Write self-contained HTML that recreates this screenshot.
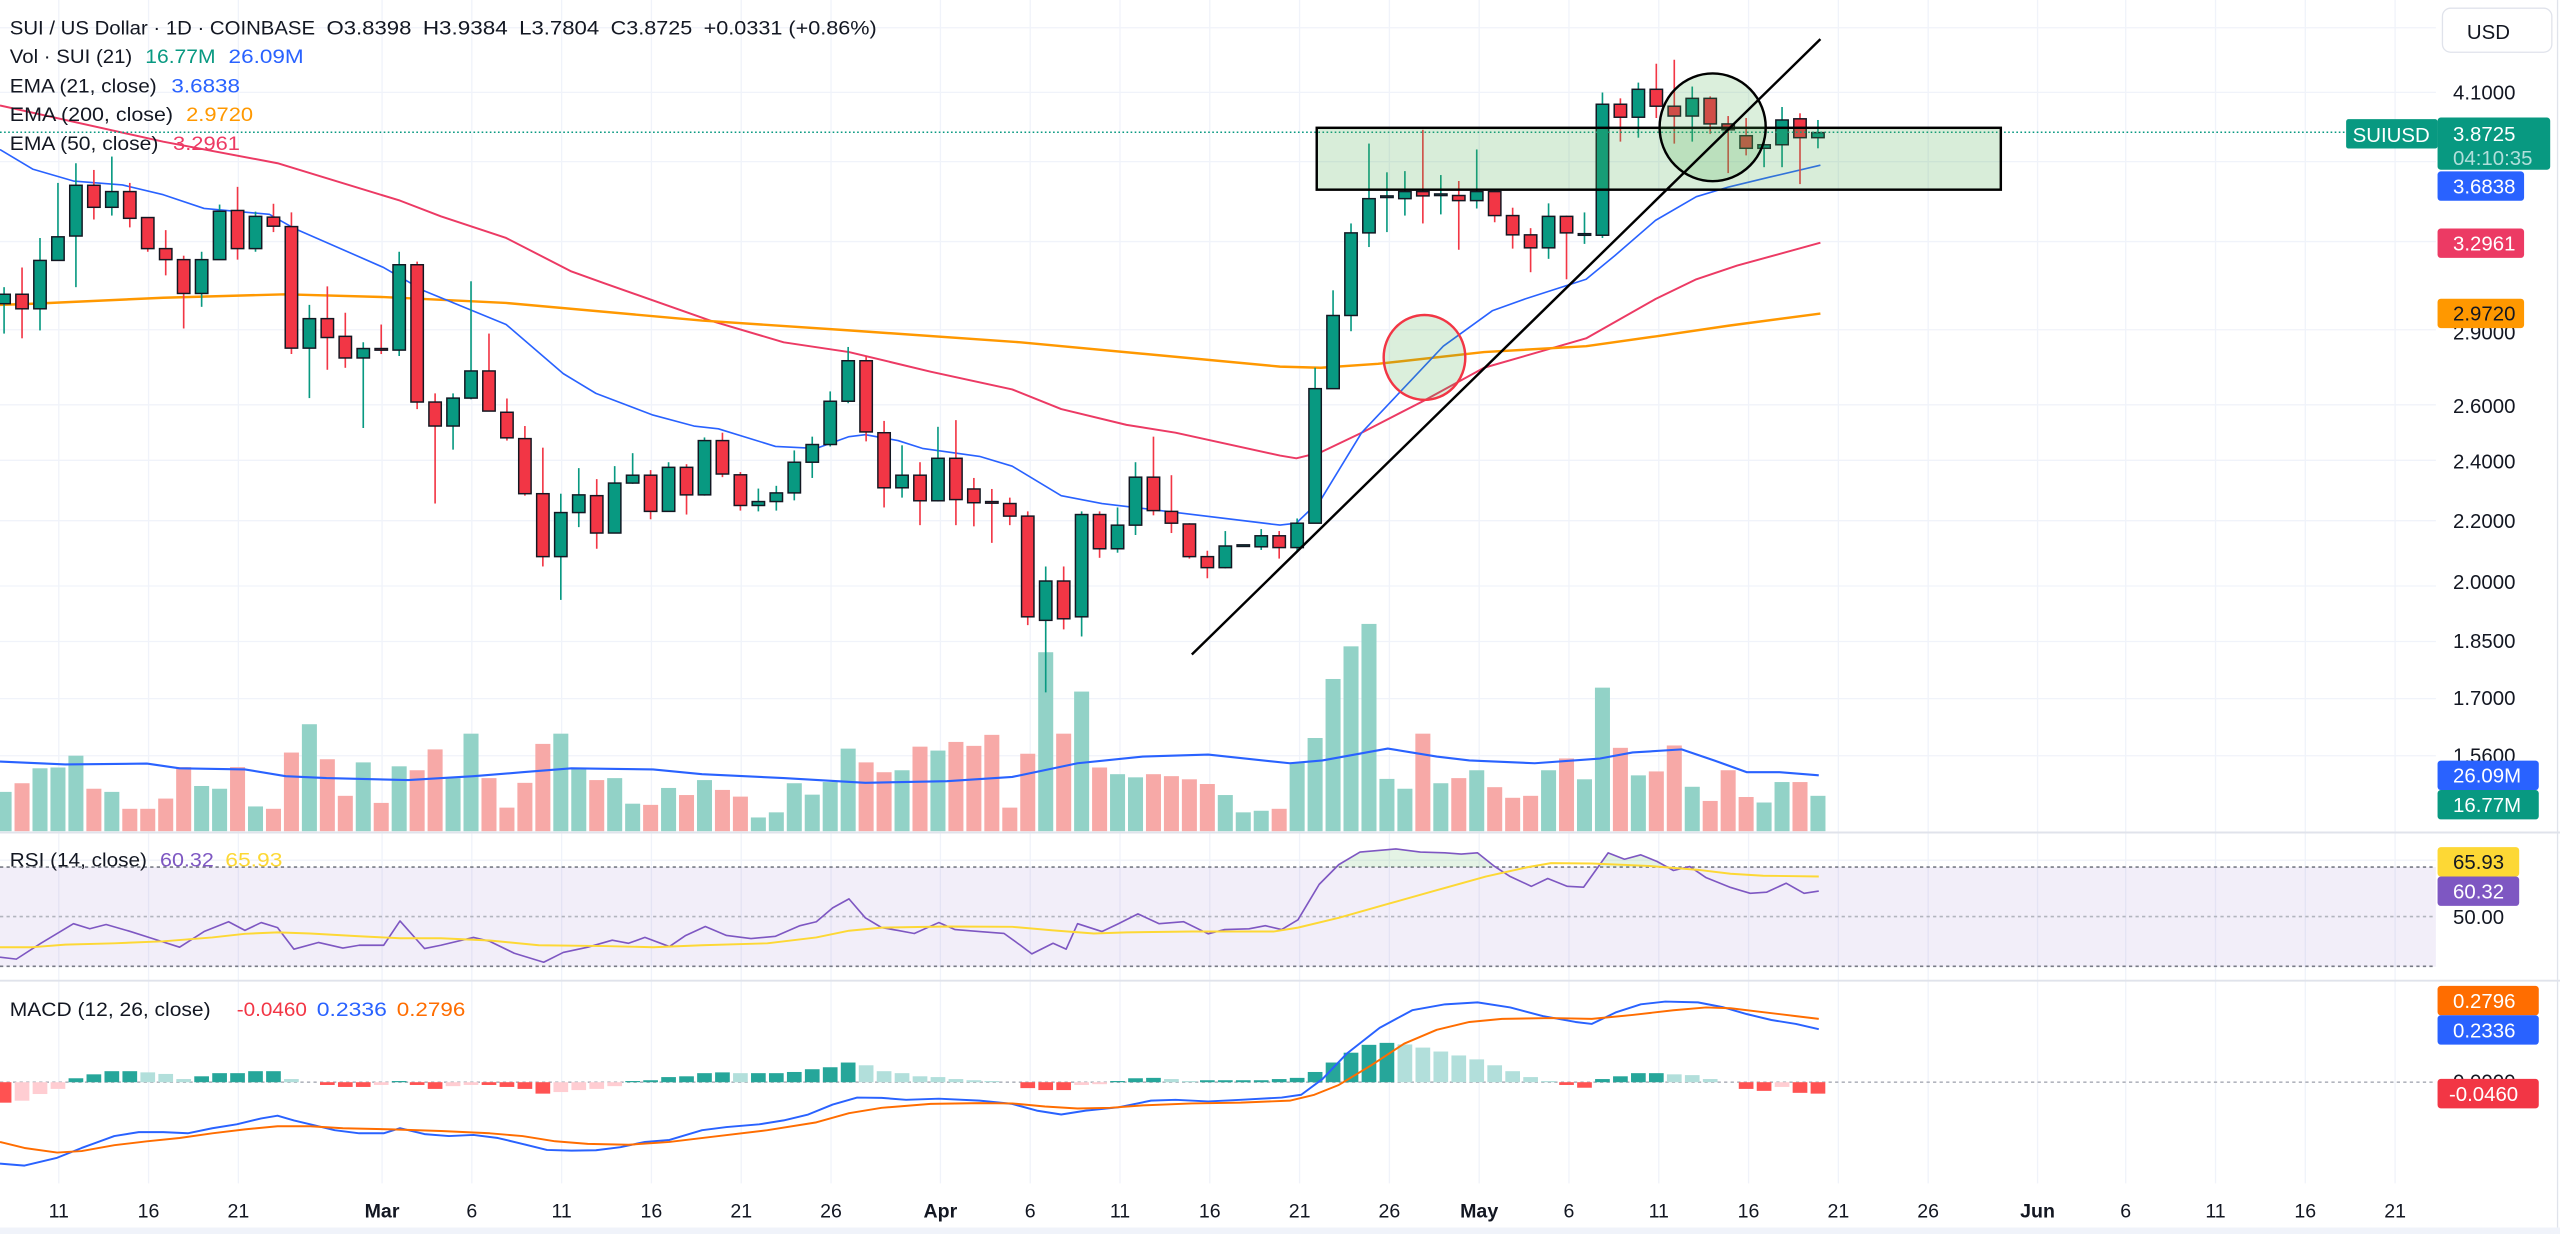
<!DOCTYPE html>
<html><head><meta charset="utf-8"><style>
html,body{margin:0;padding:0;background:#fff;}
svg{display:block;}
text{font-family:"Liberation Sans",Arial,sans-serif;}
</style></head><body>
<svg id="s" width="2560" height="1234" viewBox="0 0 1568 756" preserveAspectRatio="none" xmlns="http://www.w3.org/2000/svg">
<defs><clipPath id="ob"><rect x="0" y="500" width="1492" height="31.2"/></clipPath></defs>
<rect x="0" y="0" width="1568" height="756" fill="#fff"/>
<g id="grid" stroke="#f0f3fa" stroke-width="0.8"></g>
<line x1="0" y1="510" x2="1568" y2="510" stroke="#e0e3eb" stroke-width="1.2"/>
<line x1="0" y1="600.8" x2="1568" y2="600.8" stroke="#e0e3eb" stroke-width="1.2"/>
<line x1="1566.5" y1="0" x2="1566.5" y2="752" stroke="#e0e3eb" stroke-width="0.8"/>
<rect x="0" y="752" width="1568" height="4" fill="#f0f3fa"/>
<rect x="0" y="531.2" width="1492" height="61" fill="#7e57c2" fill-opacity="0.1"/>
<line x1="0" y1="531.2" x2="1492" y2="531.2" stroke="#787b86" stroke-width="1" stroke-dasharray="2,2"/>
<line x1="0" y1="561.5" x2="1492" y2="561.5" stroke="#b2b5be" stroke-width="1" stroke-dasharray="2,2"/>
<line x1="0" y1="592" x2="1492" y2="592" stroke="#787b86" stroke-width="1" stroke-dasharray="2,2"/>
<line x1="0" y1="663" x2="1492" y2="663" stroke="#b2b5be" stroke-width="1" stroke-dasharray="2,2"/>
<g id="vol"></g>
<g id="hist"></g>
<g id="lines"></g>
<g id="candles"></g>
<line x1="0" y1="81" x2="1437" y2="81" stroke="#089981" stroke-width="0.9" stroke-dasharray="1,1.5"/>
<g id="draw"></g>

<g font-size="11.7" fill="#131722">
<text x="6" y="21" textLength="187" lengthAdjust="spacingAndGlyphs">SUI / US Dollar · 1D · COINBASE</text>
<text x="200" y="21" textLength="52" lengthAdjust="spacingAndGlyphs">O3.8398</text>
<text x="259" y="21" textLength="52" lengthAdjust="spacingAndGlyphs">H3.9384</text>
<text x="318" y="21" textLength="49" lengthAdjust="spacingAndGlyphs">L3.7804</text>
<text x="374" y="21" textLength="50" lengthAdjust="spacingAndGlyphs">C3.8725</text>
<text x="431" y="21" textLength="106" lengthAdjust="spacingAndGlyphs">+0.0331 (+0.86%)</text>
<text x="6" y="38.6" textLength="75" lengthAdjust="spacingAndGlyphs">Vol · SUI (21)</text>
<text x="89" y="38.6" textLength="43" lengthAdjust="spacingAndGlyphs" fill="#089981">16.77M</text>
<text x="140" y="38.6" textLength="46" lengthAdjust="spacingAndGlyphs" fill="#2962ff">26.09M</text>
<text x="6" y="56.6" textLength="90" lengthAdjust="spacingAndGlyphs">EMA (21, close)</text>
<text x="105" y="56.6" textLength="42" lengthAdjust="spacingAndGlyphs" fill="#2962ff">3.6838</text>
<text x="6" y="74.2" textLength="100" lengthAdjust="spacingAndGlyphs">EMA (200, close)</text>
<text x="114" y="74.2" textLength="41" lengthAdjust="spacingAndGlyphs" fill="#ff9800">2.9720</text>
<text x="6" y="92" textLength="91" lengthAdjust="spacingAndGlyphs">EMA (50, close)</text>
<text x="106" y="92" textLength="41" lengthAdjust="spacingAndGlyphs" fill="#ec3a64">3.2961</text>
<text x="6" y="531" textLength="84" lengthAdjust="spacingAndGlyphs">RSI (14, close)</text>
<text x="98" y="531" textLength="33" lengthAdjust="spacingAndGlyphs" fill="#7e57c2">60.32</text>
<text x="138" y="531" textLength="35" lengthAdjust="spacingAndGlyphs" fill="#fdd835">65.93</text>
<text x="6" y="622.6" textLength="123" lengthAdjust="spacingAndGlyphs">MACD (12, 26, close)</text>
<text x="145" y="622.6" textLength="43" lengthAdjust="spacingAndGlyphs" fill="#f23645">-0.0460</text>
<text x="194" y="622.6" textLength="43" lengthAdjust="spacingAndGlyphs" fill="#2962ff">0.2336</text>
<text x="243" y="622.6" textLength="42" lengthAdjust="spacingAndGlyphs" fill="#ff6d00">0.2796</text>
</g>

<rect x="1496" y="5" width="67" height="27" rx="5" fill="#fff" stroke="#e0e3eb" stroke-width="0.8"/>
<text x="1511" y="24" font-size="12.5" fill="#131722">USD</text>
<g font-size="12.5" fill="#131722">
<text x="1502.5" y="61">4.1000</text>
<text x="1502.5" y="208">2.9000</text>
<text x="1502.5" y="253">2.6000</text>
<text x="1502.5" y="287">2.4000</text>
<text x="1502.5" y="323.5">2.2000</text>
<text x="1502.5" y="361">2.0000</text>
<text x="1502.5" y="397">1.8500</text>
<text x="1502.5" y="432">1.7000</text>
<text x="1502.5" y="467">1.5600</text>
<text x="1502.5" y="566">50.00</text>
<text x="1502.5" y="667">0.0000</text>
</g>
<g font-size="12.5" fill="#fff">
<rect x="1437" y="73" width="56" height="18" rx="1.5" fill="#089981"/>
<text x="1441" y="87">SUIUSD</text>
<rect x="1493" y="72" width="69" height="32" rx="2" fill="#089981"/>
<text x="1502.5" y="86.5">3.8725</text>
<text x="1502.5" y="101" fill="#b2dfdb">04:10:35</text>
<rect x="1493" y="105" width="53" height="18" rx="2" fill="#2962ff"/>
<text x="1502.5" y="118.5">3.6838</text>
<rect x="1493" y="140" width="53" height="18" rx="2" fill="#ec3a64"/>
<text x="1502.5" y="153.5">3.2961</text>
<rect x="1493" y="183" width="53" height="18" rx="2" fill="#ff9800"/>
<text x="1502.5" y="196.5" fill="#131722">2.9720</text>
<rect x="1493" y="466" width="62" height="18" rx="2" fill="#2962ff"/>
<text x="1502.5" y="479.5">26.09M</text>
<rect x="1493" y="484" width="62" height="18" rx="2" fill="#089981"/>
<text x="1502.5" y="497.5">16.77M</text>
<rect x="1493" y="519" width="50" height="18" rx="2" fill="#fdd835"/>
<text x="1502.5" y="532.5" fill="#131722">65.93</text>
<rect x="1493" y="537" width="50" height="18" rx="2" fill="#7e57c2"/>
<text x="1502.5" y="550.5">60.32</text>
<rect x="1493" y="604" width="62" height="18" rx="2" fill="#ff6d00"/>
<text x="1502.5" y="617.5">0.2796</text>
<rect x="1493" y="622" width="62" height="18" rx="2" fill="#2962ff"/>
<text x="1502.5" y="635.5">0.2336</text>
<rect x="1493" y="661" width="62" height="18" rx="2" fill="#f23645"/>
<text x="1500" y="674.5">-0.0460</text>
</g>

<g font-size="12" fill="#131722" text-anchor="middle">
<text x="36" y="746">11</text><text x="91" y="746">16</text><text x="146" y="746">21</text>
<text x="234" y="746" font-weight="bold">Mar</text>
<text x="289" y="746">6</text><text x="344" y="746">11</text><text x="399" y="746">16</text><text x="454" y="746">21</text><text x="509" y="746">26</text>
<text x="576" y="746" font-weight="bold">Apr</text>
<text x="631" y="746">6</text><text x="686" y="746">11</text><text x="741" y="746">16</text><text x="796" y="746">21</text><text x="851" y="746">26</text>
<text x="906" y="746" font-weight="bold">May</text>
<text x="961" y="746">6</text><text x="1016" y="746">11</text><text x="1071" y="746">16</text><text x="1126" y="746">21</text><text x="1181" y="746">26</text>
<text x="1248" y="746" font-weight="bold">Jun</text>
<text x="1302" y="746">6</text><text x="1357" y="746">11</text><text x="1412" y="746">16</text><text x="1467" y="746">21</text>
</g>
</svg>
<script>
(function(){
var NS="http://www.w3.org/2000/svg";
function el(p,t,a){var e=document.createElementNS(NS,t);for(var k in a)e.setAttribute(k,a[k]);p.appendChild(e);return e;}
var F=0.241;
var grid=document.getElementById('grid');
[36,91,146,234,289,344,399,454,509,576,631,686,741,796,851,906,961,1016,1071,1126,1181,1248,1302,1357,1412,1467].forEach(function(x){el(grid,'line',{x1:x,y1:0,x2:x,y2:725});});
[17,56.6,99,148,202,248,282,319,359,393,428,463,527].forEach(function(y){el(grid,'line',{x1:0,y1:y,x2:1492,y2:y});});
var C=[[748,772,730,848,'G'],[748,785,680,860,'R'],[662,785,605,840,'G'],[602,662,465,662,'G'],[471,600,415,730,'G'],[471,527,432,558,'R'],[487,527,398,548,'G'],[487,555,465,578,'R'],[553,632,553,640,'R'],[632,660,585,700,'R'],
[660,746,650,835,'R'],[660,746,640,780,'G'],[537,660,520,660,'G'],[535,632,475,660,'R'],[550,632,538,640,'G'],[552,575,518,590,'R'],[576,885,540,900,'R'],[810,885,775,1012,'G'],[810,858,728,940,'R'],[855,910,795,935,'R'],
[886,910,870,1088,'G'],[886,890,825,900,'R'],[673,890,640,905,'G'],[673,1022,665,1040,'R'],[1022,1083,1000,1280,'R'],[1012,1083,1000,1143,'G'],[943,1012,715,1015,'G'],[943,1045,848,1045,'R'],[1048,1113,1013,1120,'R'],[1115,1255,1083,1260,'R'],
[1255,1415,1138,1440,'R'],[1303,1415,1255,1525,'G'],[1258,1303,1190,1340,'G'],[1260,1355,1218,1395,'R'],[1228,1355,1185,1355,'G'],[1208,1228,1152,1230,'G'],[1208,1300,1195,1320,'R'],[1188,1300,1175,1300,'G'],[1188,1258,1180,1308,'R'],[1120,1258,1112,1260,'G'],
[1120,1205,1100,1213,'R'],[1207,1285,1200,1298,'R'],[1275,1285,1242,1300,'G'],[1253,1275,1235,1298,'G'],[1175,1253,1145,1272,'G'],[1130,1175,1110,1215,'G'],[1020,1130,995,1135,'G'],[917,1020,882,1025,'G'],[917,1098,905,1122,'R'],[1100,1240,1070,1290,'R'],
[1208,1240,1132,1265,'G'],[1208,1273,1175,1335,'R'],[1165,1273,1085,1275,'G'],[1165,1270,1068,1335,'R'],[1243,1278,1215,1338,'R'],[1275,1278,1243,1380,'R'],[1280,1312,1265,1335,'R'],[1312,1568,1300,1589,'R'],[1477,1577,1440,1760,'G'],[1477,1573,1440,1600,'R'],
[1308,1568,1300,1618,'G'],[1308,1395,1300,1418,'R'],[1335,1395,1290,1405,'G'],[1213,1335,1175,1360,'G'],[1213,1298,1110,1310,'R'],[1300,1330,1208,1355,'R'],[1332,1415,1330,1420,'R'],[1415,1443,1400,1470,'R'],[1388,1443,1350,1445,'G'],[1385,1388,1385,1390,'G'],
[1362,1390,1345,1398,'G'],[1362,1392,1350,1420,'R'],[1330,1392,1318,1400,'G'],[988,1330,935,1330,'G'],[802,988,738,988,'G'],[592,802,568,842,'G'],[505,592,365,628,'G'],[498,500,438,590,'G'],[487,505,435,548,'G'],[487,498,330,568,'R'],
[493,495,445,545,'G'],[497,510,460,635,'R'],[487,510,380,530,'G'],[487,548,485,565,'R'],[548,597,528,632,'R'],[597,630,580,692,'R'],[550,630,517,658,'G'],[550,592,548,710,'R'],[594,598,540,620,'G'],[265,598,235,605,'G'],
[265,298,250,360,'R'],[227,298,210,350,'G'],[227,270,162,300,'R'],[270,295,152,365,'R'],[250,295,220,360,'G'],[250,315,245,340,'R'],[315,330,295,440,'R'],[345,377,300,395,'R'],[368,377,350,425,'G'],[305,368,272,425,'G'],
[302,350,288,468,'R'],[337,350,305,377,'G']];
var VT=[445,423,385,383,353,437,445,488,488,462,382,430,437,382,482,488,345,273,362,455,370,473,380,390,337,410,297,410,485,422,323,297,385,415,410,475,478,435,453,415,440,457,510,497,423,452,420,335,370,395,390,330,340,318,328,300,485,348,90,297,190,383,400,408,400,405,413,425,453,497,493,488,370,308,158,75,18,412,437,297,423,410,390,433,460,455,390,360,413,180,333,403,393,327,432,468,390,458,472,420,420,455,455];
var HT=[1235,1230,1213,1200,1173,1163,1155,1155,1158,1162,1175,1168,1160,1160,1155,1155,1175,1183,1190,1195,1195,1190,1180,1190,1200,1193,1190,1190,1195,1200,1212,1208,1203,1200,1193,1180,1178,1170,1168,1160,1158,1160,1160,1160,1157,1150,1145,1133,1140,1155,1160,1168,1170,1175,1178,1180,1183,1198,1203,1203,1190,1188,1180,1173,1172,1175,1180,1178,1178,1178,1178,1175,1172,1157,1133,1108,1088,1083,1087,1095,1105,1115,1125,1140,1155,1170,1180,1190,1197,1175,1168,1160,1160,1163,1165,1175,1183,1200,1205,1195,1210,1212];
var vol=document.getElementById('vol'),hist=document.getElementById('hist'),cg=document.getElementById('candles');
function X(i){return 2.5+11*i;}
for(var i=0;i<C.length;i++){
  var c=C[i],x=X(i),col=c[4]=='G'?'#089981':'#f23645';
  var vt=377.9+VT[i]*F;
  el(vol,'rect',{x:x-4.6,y:vt,width:9.2,height:Math.max(0,509.2-vt),fill:c[4]=='G'?'#92d2c7':'#f7a9a7'});
  el(cg,'line',{x1:x,y1:c[2]*F,x2:x,y2:c[3]*F,stroke:col,'stroke-width':1});
  var t=Math.min(c[0],c[1])*F,b=Math.max(c[0],c[1])*F;if(b-t<1)b=t+1;
  el(cg,'rect',{x:x-3.8,y:t,width:7.6,height:b-t,fill:col,stroke:'#131722','stroke-width':0.9});
}
var z0=663;
for(var i=0;i<HT.length;i++){
  var v=1183-HT[i],pv=i>0?1183-HT[i-1]:v,col;
  if(v>=0)col=(v>=pv)?'#26a69a':'#b2dfdb';else col=(v<=pv)?'#ff5252':'#ffcdd2';
  var y=377.9+HT[i]*F,x=X(i);
  el(hist,'rect',{x:x-4.5,y:Math.min(y,z0),width:9,height:Math.abs(y-z0)+0.01,fill:col});
}
var L=document.getElementById('lines');
function pts2s(pts,tf){return pts.map(function(p){var q=tf(p);return q[0].toFixed(1)+','+q[1].toFixed(1);}).join(' ');}
function pl(pts,tf,col,w){el(L,'polyline',{points:pts2s(pts,tf),fill:'none',stroke:col,'stroke-width':w,'stroke-linejoin':'round'});}
function z1(p){return [p[0]/2,p[1]*F];}
function z2(p){return [784+p[0]/2,p[1]*F];}
function z3(p){return [p[0],377.9+p[1]*F];}
function both(a,b){return a.map(z1).concat(b.map(z2));}
var id=function(p){return p;};
pl(both([[0,268],[200,360],[340,415],[490,510],[540,550],[620,605],[700,690],[740,720],[870,815],[960,870],[1040,895],[1140,945],[1240,990],[1300,1040],[1380,1080],[1440,1100],[1568,1158]],[[20,1165],[50,1150],[100,1100],[175,1020],[250,935],[375,860],[460,760],[510,710],[560,675],[662,617]]),id,'#ec3a64',1.2);
pl(both([[0,775],[40,772],[200,757],[350,748],[470,755],[620,770],[860,815],[1040,840],[1250,870],[1568,932]],[[50,935],[120,925],[250,895],[375,880],[460,855],[550,828],[662,797]]),id,'#ff9800',1.5);
pl(both([[0,380],[40,430],[90,460],[150,470],[200,495],[250,530],[330,545],[360,580],[470,680],[520,740],[620,825],[690,950],[730,1000],[800,1055],[850,1083],[880,1090],[950,1135],[1000,1140],[1040,1110],[1060,1105],[1100,1120],[1130,1140],[1200,1160],[1240,1185],[1300,1260],[1350,1280],[1430,1300],[1568,1335]],[[20,1330],[50,1270],[100,1100],[150,990],[200,880],[260,790],[300,760],[375,710],[410,650],[460,560],[510,500],[550,475],[600,450],[662,420]]),id,'#2962ff',1);
pl([[0,368],[40,375],[90,373],[110,385],[150,388],[175,405],[200,410],[250,415],[290,405],[320,395],[350,385],[400,388],[430,400],[480,410],[530,422],[580,418],[620,407],[660,372],[700,355],[740,350],[790,372],[810,365],[850,335],[880,355],[900,365],[940,372],[980,360],[1000,345],[1030,337],[1050,365],[1070,395],[1090,395],[1114,403]],z3,'#2962ff',1.3);
var RSI=[[0,865],[10,870],[25,830],[45,780],[55,793],[65,782],[80,800],[95,820],[110,840],[125,800],[140,775],[150,797],[160,777],[170,790],[180,845],[195,828],[210,842],[220,835],[235,835],[245,773],[260,843],[270,835],[290,815],[300,825],[315,855],[333,878],[345,853],[360,840],[375,822],[385,830],[395,815],[410,838],[420,810],[432,787],[445,810],[460,818],[475,812],[490,785],[500,775],[510,740],[520,717],[530,765],[540,790],[550,797],[560,805],[575,777],[585,795],[600,800],[615,805],[625,835],[632,857],[645,830],[653,845],[660,780],[675,800],[685,780],[697,755],[710,780],[725,775],[740,806],[750,795],[765,793],[775,785],[785,795],[795,770],[808,680],[820,630],[833,598],[855,590],[870,598],[885,600],[895,603],[905,600],[915,633],[925,660],[938,685],[948,665],[960,685],[970,687],[985,600],[995,616],[1005,605],[1015,622],[1025,645],[1035,635],[1045,663],[1060,688],[1072,703],[1082,700],[1094,677],[1105,703],[1114,697]];
var poly=pts2s(RSI,z3)+' 1114,531.2 0,531.2';
el(L,'polygon',{points:poly,fill:'#4caf50','fill-opacity':0.15,'clip-path':'url(#ob)'});
pl(RSI,z3,'#7e57c2',1);
pl([[0,840],[20,840],[40,833],[70,830],[100,825],[130,815],[150,806],[170,802],[190,805],[220,812],[245,817],[270,817],[300,823],[330,835],[370,837],[400,840],[430,835],[470,830],[500,815],[520,798],[540,790],[580,787],[620,788],[645,797],[670,805],[690,802],[730,800],[780,800],[795,790],[820,765],[850,730],[880,695],[910,660],[935,637],[950,626],[975,627],[1010,633],[1040,643],[1060,653],[1080,658],[1114,660]],z3,'#fdd835',1.2);
pl([[0,1390],[15,1395],[35,1375],[50,1350],[70,1320],[85,1310],[100,1310],[115,1313],[130,1300],[145,1290],[160,1275],[170,1268],[180,1280],[190,1290],[205,1305],[220,1313],[235,1313],[245,1300],[260,1315],[275,1320],[290,1317],[305,1325],[320,1340],[335,1355],[350,1357],[365,1356],[380,1348],[395,1335],[410,1330],[430,1305],[445,1297],[465,1290],[480,1280],[495,1265],[510,1240],[525,1222],[540,1223],[555,1228],[575,1225],[600,1230],[620,1238],[635,1255],[650,1265],[665,1255],[685,1247],[705,1230],[720,1228],[740,1232],[760,1228],[785,1222],[797,1215],[810,1175],[825,1110],[845,1045],[865,1000],[885,985],[905,980],[925,993],[945,1015],[965,1030],[975,1035],[990,1005],[1005,985],[1020,978],[1040,980],[1055,992],[1070,1010],[1085,1025],[1100,1035],[1114,1048]],z3,'#2962ff',1.2);
pl([[0,1335],[15,1350],[35,1362],[50,1358],[70,1343],[90,1333],[110,1325],[130,1313],[150,1303],[170,1295],[190,1295],[210,1300],[240,1303],[270,1307],[300,1313],[320,1320],[340,1333],[360,1340],[385,1342],[410,1335],[440,1320],[470,1305],[500,1285],[520,1262],[540,1248],[570,1238],[600,1236],[620,1237],[640,1245],[660,1250],[680,1248],[700,1242],[730,1237],[760,1235],[790,1230],[805,1215],[820,1190],[840,1140],[860,1085],[880,1050],[900,1030],[920,1022],[950,1020],[975,1022],[1000,1012],[1025,1000],[1045,993],[1060,995],[1080,1005],[1100,1015],[1114,1022]],z3,'#ff6d00',1.2);
var D=document.getElementById('draw');
el(D,'rect',{x:806.5,y:78.3,width:419,height:37.9,fill:'#4caf50','fill-opacity':0.22,stroke:'#000','stroke-width':1.5});
el(D,'ellipse',{cx:1049,cy:78,rx:32.5,ry:33,fill:'#4caf50','fill-opacity':0.2,stroke:'#000','stroke-width':1.5});
el(D,'ellipse',{cx:872.5,cy:219,rx:25,ry:26,fill:'#4caf50','fill-opacity':0.2,stroke:'#f23645','stroke-width':1.5});
el(D,'line',{x1:730,y1:401,x2:1115,y2:24,stroke:'#000','stroke-width':1.5});
})();
</script>
</body></html>
